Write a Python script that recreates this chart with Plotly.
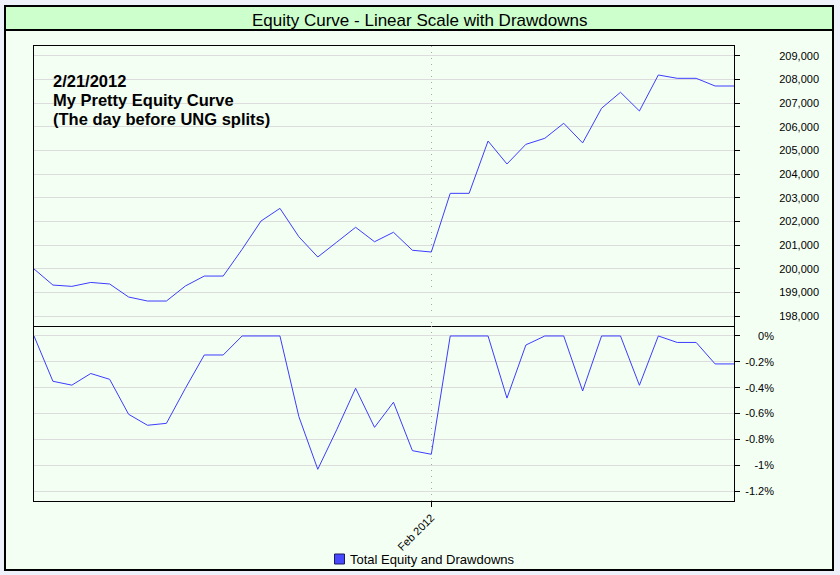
import plotly.graph_objects as go

W, H = 840, 575

# ---- data ----
x_index = list(range(38))
month_tick_pos = [21]
month_tick_labels = ["Feb 2012"]

equity = [200000, 199320, 199265, 199430, 199365, 198815, 198645, 198645,
          199280, 199700, 199700, 200830, 202025, 202560, 201360, 200505,
          201130, 201760, 201150, 201550, 200790, 200715, 203195, 203195,
          205405, 204435, 205265, 205520, 206155, 205325, 206790, 207465,
          206675, 208195, 208055, 208055, 207730, 207730]

drawdown = [0.0, -0.35, -0.38, -0.29, -0.335, -0.605, -0.69, -0.675,
            -0.405, -0.147, -0.147, 0.0, 0.0, 0.0, -0.623, -1.03,
            -0.725, -0.404, -0.706, -0.512, -0.886, -0.914, 0.0, 0.0,
            0.0, -0.48, -0.07, 0.0, 0.0, -0.425, 0.0, 0.0,
            -0.381, 0.0, -0.05, -0.05, -0.216, -0.216]

equity_ticks = [198000, 199000, 200000, 201000, 202000, 203000,
                204000, 205000, 206000, 207000, 208000, 209000]
equity_tick_labels = ["198,000", "199,000", "200,000", "201,000", "202,000", "203,000",
                      "204,000", "205,000", "206,000", "207,000", "208,000", "209,000"]
dd_ticks = [0, -0.2, -0.4, -0.6, -0.8, -1.0, -1.2]
dd_tick_labels = ["0%", "-0.2%", "-0.4%", "-0.6%", "-0.8%", "-1%", "-1.2%"]

series_name = "Total Equity and Drawdowns"
title_text = "Equity Curve - Linear Scale with Drawdowns"
note_lines = ["2/21/2012", "My Pretty Equity Curve", "(The day before UNG splits)"]

# ---- styling ----
FONT = "Liberation Sans, Arial, sans-serif"
LINE_COLOR = "#3c3cff"
GRID = "#dcdcdc"

def px(x):
    return x / W

def py(y):
    return 1 - y / H

eq_range = [197590, 209420]
dd_range = [-1.275, 0.077]

fig = go.Figure()

fig.add_trace(go.Scatter(x=x_index, y=equity, mode="lines", name=series_name,
                         line=dict(color=LINE_COLOR, width=1),
                         xaxis="x", yaxis="y", showlegend=False))
fig.add_trace(go.Scatter(x=x_index, y=drawdown, mode="lines", name=series_name,
                         line=dict(color=LINE_COLOR, width=1),
                         xaxis="x2", yaxis="y2", showlegend=False))
# label-only overlay axes (right-aligned tick labels)
fig.add_trace(go.Scatter(x=x_index, y=equity, mode="lines", opacity=0,
                         line=dict(width=0), hoverinfo="skip",
                         xaxis="x", yaxis="y3", showlegend=False))
fig.add_trace(go.Scatter(x=x_index, y=drawdown, mode="lines", opacity=0,
                         line=dict(width=0), hoverinfo="skip",
                         xaxis="x2", yaxis="y4", showlegend=False))

xdom = [px(34), px(734)]
common_x = dict(range=[0, 37], domain=xdom, showline=True,
                linecolor="black", linewidth=1, zeroline=False,
                tickvals=month_tick_pos, showgrid=True, gridcolor="#a8a8a8",
                griddash="1px,5px", gridwidth=1)

fig.update_layout(
    width=W, height=H,
    margin=dict(l=0, r=0, t=0, b=0),
    paper_bgcolor="#eef0fa",
    plot_bgcolor="white",
    font=dict(family=FONT, size=11, color="black"),
    showlegend=False,
    xaxis=dict(anchor="y", showticklabels=False, ticks="", mirror=True, **common_x),
    xaxis2=dict(anchor="y2", ticktext=month_tick_labels, ticks="outside",
                ticklen=5, tickcolor="black", tickangle=-45, mirror=False,
                tickfont=dict(size=11), matches="x", **common_x),
    yaxis=dict(domain=[py(326), py(46)], range=eq_range, side="right",
               tickvals=equity_ticks, showticklabels=False, ticks="outside",
               ticklen=5, tickcolor="black", showline=True, mirror=True,
               linecolor="black", linewidth=1, gridcolor=GRID, zeroline=False),
    yaxis2=dict(domain=[py(501), py(326)], range=dd_range, side="right",
                tickvals=dd_ticks, showticklabels=False, ticks="outside",
                ticklen=5, tickcolor="black", showline=True, mirror=True,
                linecolor="black", linewidth=1, gridcolor=GRID, zeroline=False),
    yaxis3=dict(overlaying="y", side="left", anchor="free", position=px(819),
                range=eq_range, tickvals=equity_ticks, ticktext=equity_tick_labels,
                showline=False, showgrid=False, zeroline=False, ticks="",
                tickfont=dict(size=11)),
    yaxis4=dict(overlaying="y2", side="left", anchor="free", position=px(774),
                range=dd_range, tickvals=dd_ticks, ticktext=dd_tick_labels,
                showline=False, showgrid=False, zeroline=False, ticks="",
                tickfont=dict(size=11)),
)

fig.add_shape(type="rect", xref="paper", yref="paper", layer="below",
              x0=px(5), x1=px(833), y0=py(570), y1=py(6),
              fillcolor="#f4fff4", line=dict(color="black", width=2))
fig.add_shape(type="rect", xref="paper", yref="paper", layer="below",
              x0=px(5), x1=px(833), y0=py(30), y1=py(6),
              fillcolor="#ccffcc", line=dict(color="black", width=2))

fig.add_annotation(text=title_text, xref="paper", yref="paper", x=px(419.5),
                   y=py(20.5), xanchor="center", yanchor="middle",
                   showarrow=False, font=dict(size=17, family=FONT))

for txt, yc in zip(note_lines, [80.5, 100, 119.5]):
    fig.add_annotation(text="<b>" + txt + "</b>", xref="paper", yref="paper",
                       x=px(51), y=py(yc), xanchor="left", yanchor="middle",
                       showarrow=False, font=dict(size=16.5, family=FONT))

# legend (swatch + label)
fig.add_shape(type="rect", xref="paper", yref="paper",
              x0=px(334.5), x1=px(344.5), y0=py(564), y1=py(554),
              fillcolor="#4848ff", line=dict(color="#1a1a60", width=1))
fig.add_annotation(text=series_name, xref="paper", yref="paper",
                   x=px(348), y=py(559), xanchor="left", yanchor="middle",
                   showarrow=False, font=dict(size=13, family=FONT))

fig.write_html("out.html")
